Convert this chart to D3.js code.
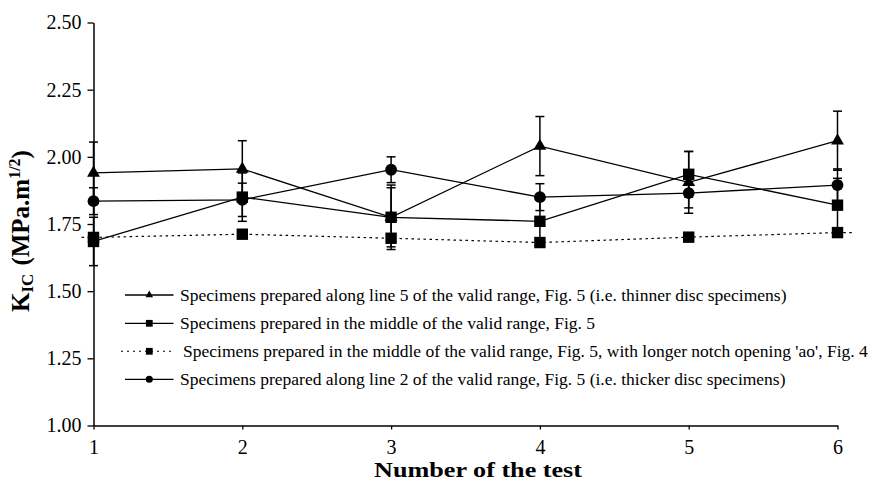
<!DOCTYPE html>
<html>
<head>
<meta charset="utf-8">
<script src="https://cdn.jsdelivr.net/npm/d3@7"></script>
<style>
  html, body { margin: 0; padding: 0; background: #fff; }
  svg { display: block; }
  svg text { font-family: "Liberation Serif", "Times New Roman", serif; fill: #000; }
</style>
</head>
<body>
<svg id="chart" width="884" height="484"></svg>
<script>
// Test numbers along the x axis
const tests = [1, 2, 3, 4, 5, 6];
const yTicks = [1.00, 1.25, 1.50, 1.75, 2.00, 2.25, 2.50];

// K_IC (MPa.m^1/2) for each specimen group, with standard deviations
const thinnerDisc = [1.94, 1.955, 1.775, 2.04, 1.905, 2.06];
const thinnerErr  = [0.115, 0.105, 0.12, 0.11, 0.115, 0.11];

const middleRange = [1.685, 1.85, 1.775, 1.76, 1.935, 1.82];
const middleErr   = [0.09, 0.09, 0.11, 0.08, 0.085, 0.10];

const longerNotch = [1.70, 1.712, 1.697, 1.681, 1.701, 1.718];

const thickerDisc = [1.835, 1.84, 1.952, 1.85, 1.865, 1.895];
const thickerErr  = [0.05, 0.062, 0.048, 0.05, 0.055, 0.06];

const legendLabels = [
  "Specimens prepared along line 5 of the valid range, Fig. 5 (i.e. thinner disc specimens)",
  "Specimens prepared in the middle of the valid range, Fig. 5",
  "Specimens prepared in the middle of the valid range, Fig. 5, with longer notch opening 'ao', Fig. 4",
  "Specimens prepared along line 2 of the valid range, Fig. 5 (i.e. thicker disc specimens)"
];

const series = [
  { values: thinnerDisc, err: thinnerErr, symbol: d3.symbolTriangle, size: 72, dash: null, legendSize: 25 },
  { values: middleRange, err: middleErr, symbol: d3.symbolSquare, size: 130, dash: null, legendSize: 46 },
  { values: longerNotch, err: null, symbol: d3.symbolSquare, size: 130, dash: "2.5,3.5", legendSize: 46 },
  { values: thickerDisc, err: thickerErr, symbol: d3.symbolCircle, size: 110, dash: null, legendSize: 40 }
];

const serif = "'Liberation Serif', 'Times New Roman', serif";
const svg = d3.select("#chart");

const x = d3.scaleLinear().domain([1, 6]).range([93.5, 837.5]);
const y = d3.scaleLinear().domain([1, 2.5]).range([425.5, 22.5]);

// Axes
const yAxis = d3.axisLeft(y)
  .tickValues(yTicks)
  .tickFormat(d3.format(".2f"))
  .tickSizeInner(6).tickSizeOuter(0).tickPadding(6);
const gy = svg.append("g").attr("transform", `translate(${x(1)},0)`).call(yAxis);

const xAxis = d3.axisBottom(x)
  .tickValues(tests)
  .tickFormat(d3.format("d"))
  .tickSizeInner(4).tickSizeOuter(0).tickPadding(10);
const gx = svg.append("g").attr("transform", `translate(0,${y(1)})`).call(xAxis);

[gx, gy].forEach(g => {
  g.attr("font-family", serif).attr("font-size", 20);
  g.select(".domain").attr("stroke", "#000").attr("stroke-width", 1.5);
  g.selectAll(".tick line").attr("stroke", "#000").attr("stroke-width", 1.3);
  g.selectAll(".tick text")
    .attr("fill", "#000")
    .attr("font-family", serif)
    .style("font-family", serif)
    .style("font-size", "20px");
});

// Connecting lines
const line = d3.line().x((d, i) => x(tests[i])).y(d => y(d));
series.forEach(s => {
  if (s.dash) {
    // dotted series runs a little past the first and last tests
    const pts = [[0.92, s.values[0]]]
      .concat(s.values.map((v, i) => [tests[i], v]))
      .concat([[6.1, s.values[s.values.length - 1]]]);
    svg.append("path")
      .attr("d", d3.line().x(p => x(p[0])).y(p => y(p[1]))(pts))
      .attr("fill", "none").attr("stroke", "#000")
      .attr("stroke-width", 1.2).attr("stroke-dasharray", s.dash);
  } else {
    svg.append("path")
      .attr("d", line(s.values))
      .attr("fill", "none").attr("stroke", "#000").attr("stroke-width", 1.3);
  }
});

// Error bars
const capHalf = 4.5;
series.forEach(s => {
  if (!s.err) return;
  const g = svg.append("g").attr("stroke", "#000").attr("stroke-width", 1.5);
  s.values.forEach((v, i) => {
    const cx = x(tests[i]);
    const top = y(v + s.err[i]);
    const bot = y(v - s.err[i]);
    g.append("line").attr("x1", cx).attr("x2", cx).attr("y1", top).attr("y2", bot);
    g.append("line").attr("x1", cx - capHalf).attr("x2", cx + capHalf).attr("y1", top).attr("y2", top);
    g.append("line").attr("x1", cx - capHalf).attr("x2", cx + capHalf).attr("y1", bot).attr("y2", bot);
  });
});

// Markers
series.forEach(s => {
  const sym = d3.symbol().type(s.symbol).size(s.size);
  svg.append("g").selectAll("path")
    .data(s.values)
    .join("path")
    .attr("d", sym)
    .attr("transform", (d, i) => `translate(${x(tests[i])},${y(d)})`)
    .attr("fill", "#000");
});

// Legend
const legend = svg.append("g");
const rowY = [295, 323.3, 351.3, 379.3];
series.forEach((s, i) => {
  const ly = rowY[i];
  const x0 = s.dash ? 121 : 125;
  legend.append("line")
    .attr("x1", x0).attr("x2", 173.5).attr("y1", ly).attr("y2", ly)
    .attr("stroke", "#000").attr("stroke-width", s.dash ? 1.1 : 1.3)
    .attr("stroke-dasharray", s.dash ? "2,4" : null);
  legend.append("path")
    .attr("d", d3.symbol().type(s.symbol).size(s.legendSize)())
    .attr("transform", `translate(149.3,${ly})`)
    .attr("fill", "#000");
  legend.append("text")
    .attr("x", s.dash ? 183 : 180)
    .attr("y", ly + 6)
    .style("font-size", "17.5px")
    .text(legendLabels[i]);
});

// Axis titles
svg.append("text")
  .attr("x", 478)
  .attr("y", 477)
  .attr("text-anchor", "middle")
  .attr("textLength", 208)
  .attr("lengthAdjust", "spacingAndGlyphs")
  .style("font-size", "21px")
  .style("font-weight", "bold")
  .text("Number of the test");

const yTitle = svg.append("text")
  .attr("transform", "translate(29,231) rotate(-90)")
  .attr("text-anchor", "middle")
  .style("font-size", "25px")
  .style("font-weight", "bold");
yTitle.append("tspan").text("K");
yTitle.append("tspan").attr("dy", 4).style("font-size", "17px").text("IC");
yTitle.append("tspan").attr("dy", -4).attr("dx", 8).text("(MPa.m");
yTitle.append("tspan").attr("dy", -9).style("font-size", "16px").text("1/2");
yTitle.append("tspan").attr("dy", 9).text(")");
</script>
</body>
</html>
